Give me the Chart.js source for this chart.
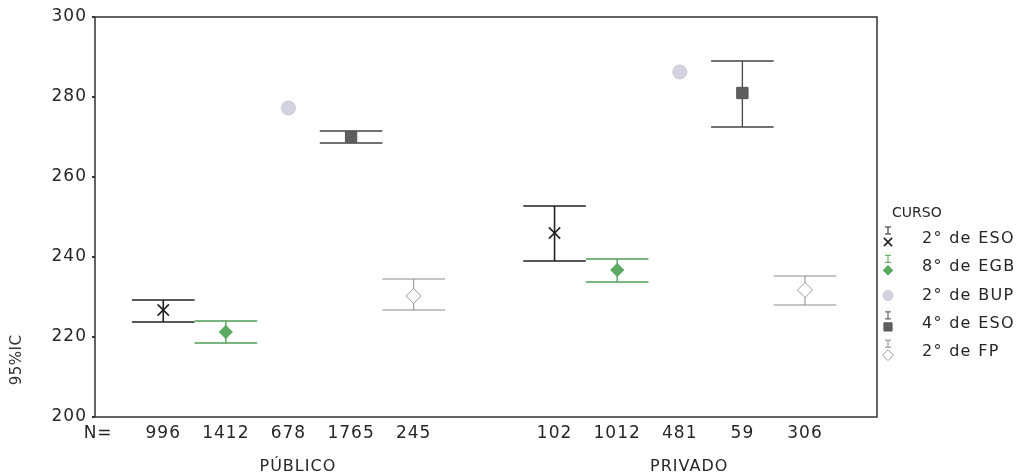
<!DOCTYPE html>
<html>
<head>
<meta charset="utf-8">
<script src="https://cdn.jsdelivr.net/npm/chart.js@4/dist/chart.umd.min.js"></script>
<style>
  html, body { margin: 0; padding: 0; background: #fff; }
  #wrap { width: 1026px; height: 474px; }
</style>
</head>
<body>
<div id="wrap"><canvas id="c" width="1026" height="474"></canvas></div>
<script>
// ---------------- DATA ----------------
const grupos = ['PÚBLICO', 'PRIVADO'];
const cursos = ['2° de ESO', '8° de EGB', '2° de BUP', '4° de ESO', '2° de FP'];
const nPublico = [996, 1412, 678, 1765, 245];
const nPrivado = [102, 1012, 481, 59, 306];
const mediaPublico = [226.75, 221.25, 277.25, 270, 230.25];
const mediaPrivado = [246, 236.75, 286.25, 281, 231.75];
const icInfPublico = [223.75, 218.5, null, 268.5, 226.75];
const icSupPublico = [229.25, 224, null, 271.5, 234.5];
const icInfPrivado = [239, 233.75, null, 272.5, 228];
const icSupPrivado = [252.75, 239.5, null, 289, 235.25];
const yTicks = [200, 220, 240, 260, 280, 300];
const nLabel = 'N=';
const yTitle = '95%IC';
const legendTitle = 'CURSO';

// ---------------- LAYOUT / STYLE ----------------
const GROUP_OFFSET = 6.25;   // slot of the first PRIVADO category
const GROUP_LABEL_SHIFT = 0.15;
const X_MIN = -1.09, X_MAX = 11.4;
const FONT = "'DejaVu Sans', sans-serif";
const TEXT = '#262626';
const styles = [
  { pointStyle: 'crossRot', radius: 8,   border: '#222',    fill: '#222',    bw: 1.6, bar: '#222',    barW: 1.6 },
  { pointStyle: 'rectRot',  radius: 6.5, border: '#4f9f55', fill: '#5aab60', bw: 1,   bar: '#4f9f55', barW: 1.3 },
  { pointStyle: 'circle',   radius: 7,   border: '#cbcbd8', fill: '#d3d3e0', bw: 1,   bar: null,      barW: 0 },
  { pointStyle: 'rect',     radius: 8,   border: '#555',    fill: '#5e5e5e', bw: 1,   bar: '#444',    barW: 1.3 },
  { pointStyle: 'rectRot',  radius: 7.5, border: '#9a9a9a', fill: '#ffffff', bw: 1,   bar: '#8a8a8a', barW: 1 }
];

// x positions derived from category index + group
const xTickValues = [X_MIN + 0.05];
const xTickLabels = [nLabel];
cursos.forEach((c, i) => { xTickValues.push(i); xTickLabels.push(String(nPublico[i])); });
cursos.forEach((c, i) => { xTickValues.push(GROUP_OFFSET + i); xTickLabels.push(String(nPrivado[i])); });
const groupPos = [ (cursos.length - 1) / 2, GROUP_OFFSET + (cursos.length - 1) / 2 ].map(v => v + GROUP_LABEL_SHIFT);

const datasets = cursos.map((c, i) => ({
  label: c,
  data: [
    { x: i, y: mediaPublico[i], lo: icInfPublico[i], hi: icSupPublico[i] },
    { x: GROUP_OFFSET + i, y: mediaPrivado[i], lo: icInfPrivado[i], hi: icSupPrivado[i] }
  ],
  showLine: false,
  pointStyle: styles[i].pointStyle,
  pointRadius: styles[i].radius,
  pointHoverRadius: styles[i].radius,
  pointBackgroundColor: styles[i].fill,
  pointBorderColor: styles[i].border,
  pointBorderWidth: styles[i].bw
}));

// ---------------- PLUGINS ----------------
const spacing = {
  id: 'spacing',
  beforeLayout(chart) { chart.ctx.letterSpacing = '1px'; },
  beforeDraw(chart) { chart.ctx.letterSpacing = '1px'; }
};

const frame = {
  id: 'frame',
  beforeDatasetsDraw(chart) {
    const { ctx, chartArea: a } = chart;
    ctx.save();
    ctx.strokeStyle = '#333';
    ctx.lineWidth = 1.5;
    ctx.strokeRect(a.left, a.top, a.right - a.left, a.bottom - a.top);
    ctx.restore();
  }
};

const yAxisTitle = {
  id: 'yAxisTitle',
  afterDraw(chart) {
    const { ctx, chartArea: a } = chart;
    ctx.save();
    ctx.letterSpacing = '0.5px';
    ctx.translate(17, a.bottom - 57);
    ctx.rotate(-Math.PI / 2);
    ctx.font = '15px ' + FONT;
    ctx.fillStyle = '#333';
    ctx.textAlign = 'center';
    ctx.textBaseline = 'middle';
    ctx.fillText(yTitle, 0, 0);
    ctx.restore();
  }
};

const errorBars = {
  id: 'errorBars',
  beforeDatasetsDraw(chart) {
    const { ctx, scales } = chart;
    const xs = scales.x, ys = scales.y;
    const half = xs.getPixelForValue(0.5) - xs.getPixelForValue(0);
    chart.data.datasets.forEach((ds, di) => {
      const st = styles[di];
      if (!st.bar) return;
      const meta = chart.getDatasetMeta(di);
      ds.data.forEach((d, j) => {
        if (d.lo == null || d.hi == null) return;
        const px = meta.data[j].x;
        const pl = ys.getPixelForValue(d.lo);
        const ph = ys.getPixelForValue(d.hi);
        ctx.save();
        ctx.strokeStyle = st.bar;
        ctx.lineWidth = st.barW;
        ctx.beginPath();
        ctx.moveTo(px, ph); ctx.lineTo(px, pl);
        ctx.moveTo(px - half, ph); ctx.lineTo(px + half, ph);
        ctx.moveTo(px - half, pl); ctx.lineTo(px + half, pl);
        ctx.stroke();
        ctx.restore();
      });
    });
  }
};

const cursoLegend = {
  id: 'cursoLegend',
  afterDraw(chart) {
    const { ctx, chartArea: a } = chart;
    const ix = a.right + 11;
    const tx = a.right + 45;
    ctx.save();
    ctx.fillStyle = TEXT;
    ctx.textAlign = 'left';
    ctx.textBaseline = 'middle';
    ctx.letterSpacing = '0px';
    ctx.font = '14px ' + FONT;
    ctx.fillText(legendTitle, a.right + 15, 213);
    ctx.letterSpacing = '1.3px';
    ctx.font = '16px ' + FONT;
    cursos.forEach((c, i) => {
      const yy = 239 + i * 28.3;
      const st = styles[i];
      let my = yy;
      if (st.bar) {
        ctx.strokeStyle = st.bar;
        ctx.lineWidth = 1;
        ctx.beginPath();
        ctx.moveTo(ix - 3, yy - 12); ctx.lineTo(ix + 3, yy - 12);
        ctx.moveTo(ix, yy - 12); ctx.lineTo(ix, yy - 5);
        ctx.moveTo(ix - 3, yy - 5); ctx.lineTo(ix + 3, yy - 5);
        ctx.stroke();
        my = yy + 3;
      }
      ctx.fillStyle = st.fill;
      ctx.strokeStyle = st.border;
      ctx.lineWidth = st.bw;
      Chart.helpers.drawPoint(ctx, { pointStyle: st.pointStyle, radius: st.radius * 0.72, rotation: 0, borderWidth: st.bw }, ix, my);
      ctx.fillStyle = TEXT;
      ctx.fillText(c, tx, yy);
    });
    ctx.restore();
  }
};

// ---------------- CHART ----------------
Chart.defaults.font.family = FONT;
Chart.defaults.color = TEXT;

new Chart(document.getElementById('c'), {
  type: 'scatter',
  data: { datasets },
  options: {
    responsive: false,
    animation: false,
    devicePixelRatio: 1,
    layout: { padding: { top: 17, right: 149, left: 0, bottom: 0 } },
    plugins: { legend: { display: false }, tooltip: { enabled: false } },
    scales: {
      x: {
        type: 'linear', position: 'bottom', min: X_MIN, max: X_MAX,
        afterBuildTicks(scale) { scale.ticks = xTickValues.map(v => ({ value: v })); },
        afterFit(scale) { scale.height = 30; },
        ticks: { autoSkip: false, maxRotation: 0, minRotation: 0, padding: -2, color: TEXT, font: { size: 17 },
                 callback: (v, i) => xTickLabels[i] },
        grid: { display: false },
        border: { display: false }
      },
      x2: {
        type: 'linear', position: 'bottom', min: X_MIN, max: X_MAX,
        afterBuildTicks(scale) { scale.ticks = groupPos.map(v => ({ value: v })); },
        afterFit(scale) { scale.height = 27; },
        ticks: { autoSkip: false, maxRotation: 0, minRotation: 0, padding: 2, color: TEXT, font: { size: 16 },
                 callback: (v, i) => grupos[i] },
        grid: { display: false },
        border: { display: false }
      },
      y: {
        type: 'linear', position: 'left', min: 200, max: 300,
        afterBuildTicks(scale) { scale.ticks = yTicks.map(v => ({ value: v })); },
        afterFit(scale) { scale.width = 95; },
        ticks: { padding: 5, color: TEXT, font: { size: 17 } },
        grid: { display: true, drawOnChartArea: false, drawTicks: true, tickLength: 3, color: '#333', lineWidth: 2 },
        border: { display: false }
      }
    }
  },
  plugins: [spacing, frame, errorBars, yAxisTitle, cursoLegend]
});
</script>
</body>
</html>
